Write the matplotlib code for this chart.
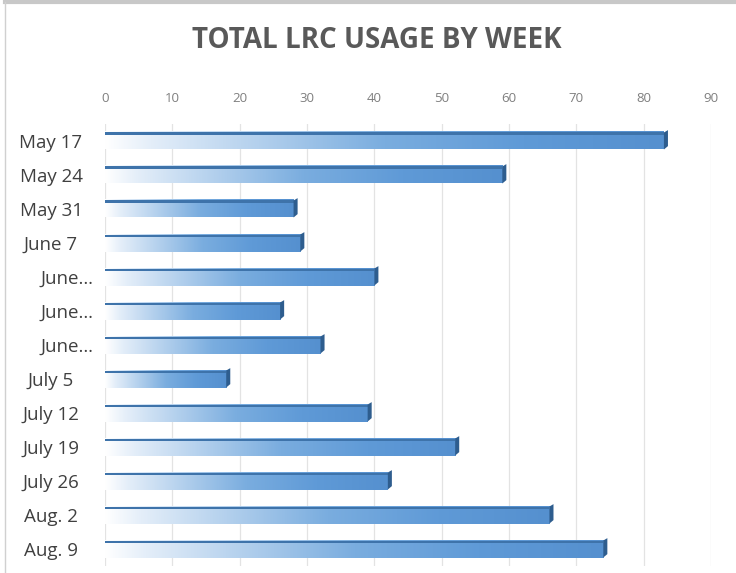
import numpy as np
import matplotlib
matplotlib.use('Agg')
import matplotlib.pyplot as plt
import matplotlib.transforms as mtransforms
from matplotlib.colors import LinearSegmentedColormap
from matplotlib.patches import Rectangle, Polygon

weeks = ['May 17', 'May 24', 'May 31', 'June 7', 'June\u2026', 'June\u2026', 'June\u2026',
         'July 5', 'July 12', 'July 19', 'July 26', 'Aug. 2', 'Aug. 9']
usage = [83, 59, 28, 29, 40, 26, 32, 18, 39, 52, 42, 66, 74]
x_ticks = [0, 10, 20, 30, 40, 50, 60, 70, 80, 90]

plt.rcParams['font.family'] = ['Open Sans', 'DejaVu Sans']

fig = plt.figure(figsize=(7.36, 5.73), dpi=100)
ax = fig.add_axes([0.1427, 0.0122, 0.8234, 0.7714])

# blue gradient like the excel bars
grad = LinearSegmentedColormap.from_list('bar', [(0, '#FFFFFF'), (0.08, '#E4EEF9'),
                                                 (0.5, '#7AADDF'), (0.75, '#5F9AD7'),
                                                 (1, '#5590CF')])
g = np.linspace(0, 1, 256).reshape(1, -1)

ypos = np.arange(len(weeks))
h = 0.5
for y, v in zip(ypos, usage):
    ax.imshow(g, cmap=grad, aspect='auto', extent=[0, v, y + h / 2, y - h / 2],
              interpolation='bicubic', zorder=3)
    # darker top face
    ax.add_patch(Rectangle((0, y - h / 2), v, 0.08, color='#3E73AA', zorder=4, lw=0))
    # side face
    ax.add_patch(Polygon([[v, y - h / 2], [v + 0.6, y - h / 2 - 0.07],
                          [v + 0.6, y + h / 2 - 0.1], [v, y + h / 2]],
                         closed=True, color='#2E5D8E', zorder=4, lw=0))

ax.set_xlim(0, 90)
ax.set_ylim(len(weeks) - 0.5, -0.5)
ax.set_xticks(x_ticks)
ax.set_yticks(ypos)
ax.set_yticklabels([])
ax.xaxis.tick_top()
ax.tick_params(axis='x', length=0, labelsize=9.5, colors='#7F7F7F', pad=14)
ax.tick_params(axis='y', length=0)
ax.grid(axis='x', color='#E3E3E3', lw=0.9, zorder=0)
for s in ax.spines.values():
    s.set_visible(False)

# category labels, centred like excel does
tr = mtransforms.blended_transform_factory(fig.transFigure, ax.transData)
for y, lab in zip(ypos, weeks):
    xc = 67 if lab.endswith('\u2026') else 51
    ax.text(xc / 736, y, lab, transform=tr, ha='center', va='center_baseline',
            fontsize=13.5, color='#404040')

fig.text(0.512, 0.93, 'TOTAL LRC USAGE BY WEEK', ha='center', va='center',
         fontsize=20, fontweight='bold', color='#595959')

# chart frame
fig.add_artist(plt.Line2D([0.007, 1], [0.996, 0.996], color='#C8C8C8', lw=3,
                          transform=fig.transFigure))
fig.add_artist(plt.Line2D([0.007, 0.007], [0, 0.996], color='#D0D0D0', lw=1,
                          transform=fig.transFigure))

fig.savefig('out.png', dpi=100)
